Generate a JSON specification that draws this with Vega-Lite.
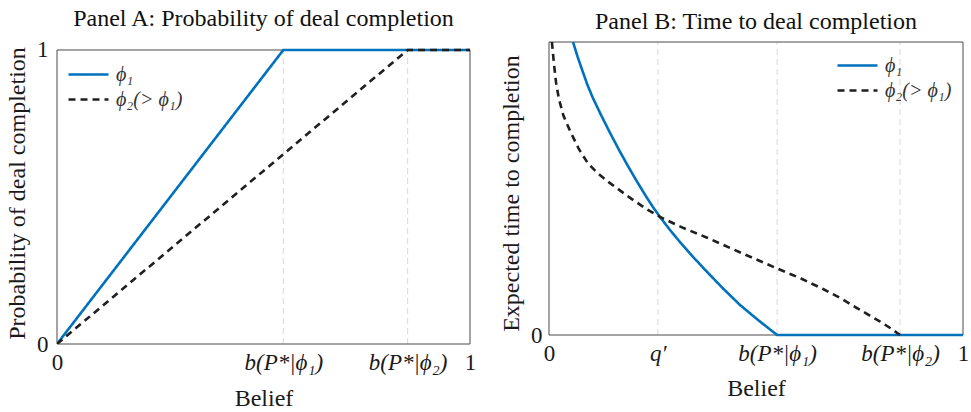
{
  "$schema": "https://vega.github.io/schema/vega-lite/v6.json",
  "background": "white",
  "padding": {"left": 5, "top": 6, "right": 2, "bottom": 2},
  "spacing": 23,
  "config": {
    "font": "Liberation Serif",
    "view": {"stroke": null},
    "axis": {
      "domain": false,
      "ticks": false,
      "grid": false,
      "labelFont": "Liberation Serif",
      "labelFontSize": 23,
      "labelColor": "#1a1a1a",
      "labelPadding": 7,
      "labelOverlap": false,
      "labelFlush": false,
      "labelBound": false,
      "titleFont": "Liberation Serif",
      "titleFontSize": 24,
      "titleFontWeight": "normal",
      "titleColor": "#1a1a1a"
    },
    "title": {"font": "Liberation Serif", "fontSize": 24, "fontWeight": "normal", "color": "#111111", "anchor": "middle"},
    "legend": {
      "title": null,
      "symbolType": "stroke",
      "symbolSize": 1600,
      "symbolStrokeWidth": 2.6,
      "clipHeight": 25,
      "rowPadding": 0,
      "padding": 0,
      "labelFont": "Liberation Serif",
      "labelFontSize": 20,
      "labelFontStyle": "italic",
      "labelColor": "#333333",
      "labelOffset": 6
    }
  },
  "datasets": {
    "panelA": [
      {"series": "ϕ₁", "belief": 0, "value": 0},
      {"series": "ϕ₁", "belief": 0.548, "value": 1},
      {"series": "ϕ₁", "belief": 1, "value": 1},
      {"series": "ϕ₂(> ϕ₁)", "belief": 0, "value": 0},
      {"series": "ϕ₂(> ϕ₁)", "belief": 0.849, "value": 1},
      {"series": "ϕ₂(> ϕ₁)", "belief": 1, "value": 1}
    ],
    "frame": [{"x0": 0, "x1": 1, "y0": 0, "y1": 1}],
    "gridA": [{"tick": 0.548}, {"tick": 0.849}],
    "gridB": [{"tick": 0.263}, {"tick": 0.551}, {"tick": 0.848}],
    "panelB": [
      {"series": "ϕ₁", "belief": 0.058, "value": 1.0},
      {"series": "ϕ₁", "belief": 0.069, "value": 0.95},
      {"series": "ϕ₁", "belief": 0.080, "value": 0.905},
      {"series": "ϕ₁", "belief": 0.093, "value": 0.853},
      {"series": "ϕ₁", "belief": 0.106, "value": 0.809},
      {"series": "ϕ₁", "belief": 0.126, "value": 0.75},
      {"series": "ϕ₁", "belief": 0.147, "value": 0.691},
      {"series": "ϕ₁", "belief": 0.169, "value": 0.632},
      {"series": "ϕ₁", "belief": 0.191, "value": 0.576},
      {"series": "ϕ₁", "belief": 0.212, "value": 0.525},
      {"series": "ϕ₁", "belief": 0.234, "value": 0.474},
      {"series": "ϕ₁", "belief": 0.251, "value": 0.437},
      {"series": "ϕ₁", "belief": 0.268, "value": 0.403},
      {"series": "ϕ₁", "belief": 0.292, "value": 0.359},
      {"series": "ϕ₁", "belief": 0.316, "value": 0.318},
      {"series": "ϕ₁", "belief": 0.349, "value": 0.265},
      {"series": "ϕ₁", "belief": 0.382, "value": 0.215},
      {"series": "ϕ₁", "belief": 0.421, "value": 0.158},
      {"series": "ϕ₁", "belief": 0.461, "value": 0.103},
      {"series": "ϕ₁", "belief": 0.506, "value": 0.05},
      {"series": "ϕ₁", "belief": 0.551, "value": 0},
      {"series": "ϕ₁", "belief": 1, "value": 0},
      {"series": "ϕ₂(> ϕ₁)", "belief": 0.007, "value": 1.0},
      {"series": "ϕ₂(> ϕ₁)", "belief": 0.012, "value": 0.925},
      {"series": "ϕ₂(> ϕ₁)", "belief": 0.017, "value": 0.862},
      {"series": "ϕ₂(> ϕ₁)", "belief": 0.024, "value": 0.805},
      {"series": "ϕ₂(> ϕ₁)", "belief": 0.035, "value": 0.748},
      {"series": "ϕ₂(> ϕ₁)", "belief": 0.051, "value": 0.696},
      {"series": "ϕ₂(> ϕ₁)", "belief": 0.072, "value": 0.635},
      {"series": "ϕ₂(> ϕ₁)", "belief": 0.094, "value": 0.586},
      {"series": "ϕ₂(> ϕ₁)", "belief": 0.117, "value": 0.553},
      {"series": "ϕ₂(> ϕ₁)", "belief": 0.140, "value": 0.526},
      {"series": "ϕ₂(> ϕ₁)", "belief": 0.168, "value": 0.497},
      {"series": "ϕ₂(> ϕ₁)", "belief": 0.196, "value": 0.468},
      {"series": "ϕ₂(> ϕ₁)", "belief": 0.232, "value": 0.433},
      {"series": "ϕ₂(> ϕ₁)", "belief": 0.268, "value": 0.403},
      {"series": "ϕ₂(> ϕ₁)", "belief": 0.325, "value": 0.365},
      {"series": "ϕ₂(> ϕ₁)", "belief": 0.382, "value": 0.332},
      {"series": "ϕ₂(> ϕ₁)", "belief": 0.465, "value": 0.28},
      {"series": "ϕ₂(> ϕ₁)", "belief": 0.551, "value": 0.227},
      {"series": "ϕ₂(> ϕ₁)", "belief": 0.61, "value": 0.192},
      {"series": "ϕ₂(> ϕ₁)", "belief": 0.662, "value": 0.157},
      {"series": "ϕ₂(> ϕ₁)", "belief": 0.705, "value": 0.125},
      {"series": "ϕ₂(> ϕ₁)", "belief": 0.744, "value": 0.092},
      {"series": "ϕ₂(> ϕ₁)", "belief": 0.775, "value": 0.066},
      {"series": "ϕ₂(> ϕ₁)", "belief": 0.80, "value": 0.046},
      {"series": "ϕ₂(> ϕ₁)", "belief": 0.825, "value": 0.023},
      {"series": "ϕ₂(> ϕ₁)", "belief": 0.848, "value": 0}
    ]
  },
  "hconcat": [
    {
      "width": 413,
      "height": 302,
      "title": {"text": "Panel A: Probability of deal completion", "offset": 8},
      "layer": [
        {
          "data": {"name": "gridA"},
          "mark": {"type": "rule", "color": "#d9d9d9", "strokeWidth": 1, "strokeDash": [6, 4]},
          "encoding": {
            "x": {"field": "tick", "type": "quantitative", "scale": {"domain": [0, 1], "nice": false, "zero": false}},
            "y": {"datum": 0, "scale": {"domain": [0, 1.0272], "nice": false}},
            "y2": {"datum": 1}
          }
        },
        {
          "data": {"name": "frame"},
          "mark": {"type": "rect", "fill": null, "stroke": "#4a4a4a", "strokeWidth": 1},
          "encoding": {
            "x": {"field": "x0", "type": "quantitative"},
            "x2": {"field": "x1"},
            "y": {"field": "y0", "type": "quantitative"},
            "y2": {"field": "y1"}
          }
        },
        {
          "data": {"name": "panelA"},
          "mark": {"type": "line", "strokeWidth": 2.6, "clip": true},
          "encoding": {
            "x": {
              "field": "belief", "type": "quantitative",
              "scale": {"domain": [0, 1], "nice": false, "zero": false},
              "axis": {
                "title": "Belief",
                "titlePadding": 12,
                "values": [0, 0.548, 0.849, 1],
                "labelExpr": "datum.value == 0 ? '0' : datum.value == 1 ? '1' : datum.value < 0.7 ? 'b(P*|ϕ₁)' : 'b(P*|ϕ₂)'",
                "labelFontStyle": {"condition": {"test": "datum.value == 0 || datum.value == 1", "value": "normal"}, "value": "italic"}
              }
            },
            "y": {
              "field": "value", "type": "quantitative",
              "scale": {"domain": [0, 1.0272], "nice": false},
              "axis": {"title": "Probability of deal completion", "titlePadding": 7, "labelPadding": 9, "values": [0, 1], "format": "d"}
            },
            "color": {
              "field": "series", "type": "nominal",
              "scale": {"domain": ["ϕ₁", "ϕ₂(> ϕ₁)"], "range": ["#0072BD", "#1f1f1f"]},
              "legend": {"orient": "none", "legendX": 10, "legendY": 20}
            },
            "strokeDash": {
              "field": "series", "type": "nominal",
              "scale": {"domain": ["ϕ₁", "ϕ₂(> ϕ₁)"], "range": [[1, 0], [7, 5]]},
              "legend": {"orient": "none", "legendX": 10, "legendY": 20}
            }
          }
        }
      ]
    },
    {
      "width": 414,
      "height": 302,
      "title": {"text": "Panel B: Time to deal completion", "offset": 8},
      "layer": [
        {
          "data": {"name": "gridB"},
          "mark": {"type": "rule", "color": "#d9d9d9", "strokeWidth": 1, "strokeDash": [6, 4]},
          "encoding": {
            "x": {"field": "tick", "type": "quantitative", "scale": {"domain": [0, 1], "nice": false, "zero": false}},
            "y": {"datum": 0, "scale": {"domain": [-0.0307, 1], "nice": false, "zero": false}},
            "y2": {"datum": 1}
          }
        },
        {
          "data": {"name": "frame"},
          "mark": {"type": "rect", "fill": null, "stroke": "#4a4a4a", "strokeWidth": 1},
          "encoding": {
            "x": {"field": "x0", "type": "quantitative"},
            "x2": {"field": "x1"},
            "y": {"field": "y0", "type": "quantitative"},
            "y2": {"field": "y1"}
          }
        },
        {
          "data": {"name": "panelB"},
          "mark": {"type": "line", "strokeWidth": 2.6, "clip": true},
          "encoding": {
            "x": {
              "field": "belief", "type": "quantitative",
              "scale": {"domain": [0, 1], "nice": false, "zero": false},
              "axis": {
                "title": "Belief",
                "titlePadding": 11,
                "offset": -9,
                "values": [0, 0.263, 0.551, 0.848, 1],
                "labelExpr": "datum.value == 0 ? '0' : datum.value == 1 ? '1' : datum.value < 0.4 ? 'q′' : datum.value < 0.7 ? 'b(P*|ϕ₁)' : 'b(P*|ϕ₂)'",
                "labelFontStyle": {"condition": {"test": "datum.value == 0 || datum.value == 1", "value": "normal"}, "value": "italic"}
              }
            },
            "y": {
              "field": "value", "type": "quantitative",
              "scale": {"domain": [-0.0307, 1], "nice": false, "zero": false},
              "axis": {"title": "Expected time to completion", "titlePadding": 7, "labelPadding": 7, "values": [0], "format": "d"}
            },
            "color": {
              "field": "series", "type": "nominal",
              "scale": {"domain": ["ϕ₁", "ϕ₂(> ϕ₁)"], "range": ["#0072BD", "#1f1f1f"]},
              "legend": {"orient": "top-right", "offset": 11}
            },
            "strokeDash": {
              "field": "series", "type": "nominal",
              "scale": {"domain": ["ϕ₁", "ϕ₂(> ϕ₁)"], "range": [[1, 0], [7, 5]]},
              "legend": {"orient": "top-right", "offset": 11}
            }
          }
        }
      ]
    }
  ],
  "resolve": {"scale": {"color": "independent", "strokeDash": "independent"}, "legend": {"color": "independent", "strokeDash": "independent"}}
}
